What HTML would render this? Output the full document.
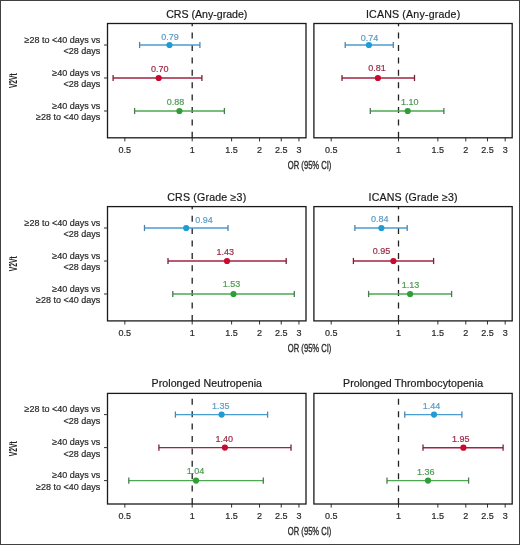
<!DOCTYPE html><html><head><meta charset="utf-8"><style>html,body{margin:0;padding:0;background:#fff;overflow:hidden}svg{display:block;will-change:transform}text{font-family:"Liberation Sans",sans-serif}</style></head><body>
<svg width="520" height="545" viewBox="0 0 520 545">
<rect x="0" y="0" width="520" height="545" fill="#fff"/>
<rect x="0.5" y="0.5" width="519" height="544" fill="none" stroke="#404040" stroke-width="1"/>
<text x="206.75" y="17.50" font-size="10.6" letter-spacing="0" text-anchor="middle" fill="#1a1a1a" stroke="#1a1a1a" stroke-width="0.2">CRS (Any-grade)</text>
<line x1="192.2" y1="137.8" x2="192.2" y2="23.5" stroke="#222" stroke-width="1.3" stroke-dasharray="6 6.4"/>
<line x1="124.85" y1="137.8" x2="124.85" y2="141.40" stroke="#333" stroke-width="1"/>
<text x="124.85" y="152.80" font-size="9" text-anchor="middle" fill="#2a2a2a" stroke="#2a2a2a" stroke-width="0.2">0.5</text>
<line x1="192.20" y1="137.8" x2="192.20" y2="141.40" stroke="#333" stroke-width="1"/>
<text x="192.20" y="152.80" font-size="9" text-anchor="middle" fill="#2a2a2a" stroke="#2a2a2a" stroke-width="0.2">1</text>
<line x1="231.60" y1="137.8" x2="231.60" y2="141.40" stroke="#333" stroke-width="1"/>
<text x="231.60" y="152.80" font-size="9" text-anchor="middle" fill="#2a2a2a" stroke="#2a2a2a" stroke-width="0.2">1.5</text>
<line x1="259.55" y1="137.8" x2="259.55" y2="141.40" stroke="#333" stroke-width="1"/>
<text x="259.55" y="152.80" font-size="9" text-anchor="middle" fill="#2a2a2a" stroke="#2a2a2a" stroke-width="0.2">2</text>
<line x1="281.24" y1="137.8" x2="281.24" y2="141.40" stroke="#333" stroke-width="1"/>
<text x="281.24" y="152.80" font-size="9" text-anchor="middle" fill="#2a2a2a" stroke="#2a2a2a" stroke-width="0.2">2.5</text>
<line x1="298.95" y1="137.8" x2="298.95" y2="141.40" stroke="#333" stroke-width="1"/>
<text x="298.95" y="152.80" font-size="9" text-anchor="middle" fill="#2a2a2a" stroke="#2a2a2a" stroke-width="0.2">3</text>
<line x1="139.6" y1="45" x2="199.9" y2="45" stroke="#4a9dd2" stroke-width="1.35"/>
<line x1="139.6" y1="41.9" x2="139.6" y2="48.1" stroke="#4f85ad" stroke-width="1.3"/>
<line x1="199.9" y1="41.9" x2="199.9" y2="48.1" stroke="#4f85ad" stroke-width="1.3"/>
<circle cx="169.5" cy="45" r="3.1" fill="#1f9bd6"/>
<text x="170.10" y="40.10" font-size="9" text-anchor="middle" fill="#5a9cc6" stroke="#5a9cc6" stroke-width="0.2">0.79</text>
<line x1="113.1" y1="78" x2="201.9" y2="78" stroke="#a02342" stroke-width="1.35"/>
<line x1="113.1" y1="74.9" x2="113.1" y2="81.1" stroke="#7a2038" stroke-width="1.3"/>
<line x1="201.9" y1="74.9" x2="201.9" y2="81.1" stroke="#7a2038" stroke-width="1.3"/>
<circle cx="158.7" cy="78" r="3.1" fill="#c80a2e"/>
<text x="159.70" y="71.80" font-size="9" text-anchor="middle" fill="#9a2a44" stroke="#9a2a44" stroke-width="0.2">0.70</text>
<line x1="134.6" y1="111" x2="224.4" y2="111" stroke="#4da852" stroke-width="1.35"/>
<line x1="134.6" y1="107.9" x2="134.6" y2="114.1" stroke="#4a7a50" stroke-width="1.3"/>
<line x1="224.4" y1="107.9" x2="224.4" y2="114.1" stroke="#4a7a50" stroke-width="1.3"/>
<circle cx="179.4" cy="111" r="3.1" fill="#2e9e36"/>
<text x="175.60" y="104.80" font-size="9" text-anchor="middle" fill="#4f9953" stroke="#4f9953" stroke-width="0.2">0.88</text>
<rect x="107.5" y="23.5" width="198.50" height="114.30" fill="none" stroke="#1a1a1a" stroke-width="1.3"/>
<line x1="104" y1="45" x2="107.5" y2="45" stroke="#333" stroke-width="1"/>
<text x="100.2" y="42.60" font-size="9" text-anchor="end" fill="#2a2a2a" stroke="#2a2a2a" stroke-width="0.2">≥28 to &lt;40 days vs</text>
<text x="100.2" y="53.90" font-size="9" text-anchor="end" fill="#2a2a2a" stroke="#2a2a2a" stroke-width="0.2">&lt;28 days</text>
<line x1="104" y1="78" x2="107.5" y2="78" stroke="#333" stroke-width="1"/>
<text x="100.2" y="75.60" font-size="9" text-anchor="end" fill="#2a2a2a" stroke="#2a2a2a" stroke-width="0.2">≥40 days vs</text>
<text x="100.2" y="86.90" font-size="9" text-anchor="end" fill="#2a2a2a" stroke="#2a2a2a" stroke-width="0.2">&lt;28 days</text>
<line x1="104" y1="111" x2="107.5" y2="111" stroke="#333" stroke-width="1"/>
<text x="100.2" y="108.60" font-size="9" text-anchor="end" fill="#2a2a2a" stroke="#2a2a2a" stroke-width="0.2">≥40 days vs</text>
<text x="100.2" y="119.90" font-size="9" text-anchor="end" fill="#2a2a2a" stroke="#2a2a2a" stroke-width="0.2">≥28 to &lt;40 days</text>
<text transform="translate(16.9 80.65) rotate(-90) scale(0.67 1)" x="0" y="0" font-size="10" font-weight="bold" text-anchor="middle" fill="#222">V2Vt</text>
<text x="413.15" y="17.50" font-size="10.6" letter-spacing="0.19" text-anchor="middle" fill="#1a1a1a" stroke="#1a1a1a" stroke-width="0.2">ICANS (Any-grade)</text>
<line x1="398.5" y1="137.8" x2="398.5" y2="23.5" stroke="#222" stroke-width="1.3" stroke-dasharray="6 6.4"/>
<line x1="331.20" y1="137.8" x2="331.20" y2="141.40" stroke="#333" stroke-width="1"/>
<text x="331.20" y="152.80" font-size="9" text-anchor="middle" fill="#2a2a2a" stroke="#2a2a2a" stroke-width="0.2">0.5</text>
<line x1="398.50" y1="137.8" x2="398.50" y2="141.40" stroke="#333" stroke-width="1"/>
<text x="398.50" y="152.80" font-size="9" text-anchor="middle" fill="#2a2a2a" stroke="#2a2a2a" stroke-width="0.2">1</text>
<line x1="437.87" y1="137.8" x2="437.87" y2="141.40" stroke="#333" stroke-width="1"/>
<text x="437.87" y="152.80" font-size="9" text-anchor="middle" fill="#2a2a2a" stroke="#2a2a2a" stroke-width="0.2">1.5</text>
<line x1="465.80" y1="137.8" x2="465.80" y2="141.40" stroke="#333" stroke-width="1"/>
<text x="465.80" y="152.80" font-size="9" text-anchor="middle" fill="#2a2a2a" stroke="#2a2a2a" stroke-width="0.2">2</text>
<line x1="487.47" y1="137.8" x2="487.47" y2="141.40" stroke="#333" stroke-width="1"/>
<text x="487.47" y="152.80" font-size="9" text-anchor="middle" fill="#2a2a2a" stroke="#2a2a2a" stroke-width="0.2">2.5</text>
<line x1="505.18" y1="137.8" x2="505.18" y2="141.40" stroke="#333" stroke-width="1"/>
<text x="505.18" y="152.80" font-size="9" text-anchor="middle" fill="#2a2a2a" stroke="#2a2a2a" stroke-width="0.2">3</text>
<line x1="345.2" y1="45" x2="393.3" y2="45" stroke="#4a9dd2" stroke-width="1.35"/>
<line x1="345.2" y1="41.9" x2="345.2" y2="48.1" stroke="#4f85ad" stroke-width="1.3"/>
<line x1="393.3" y1="41.9" x2="393.3" y2="48.1" stroke="#4f85ad" stroke-width="1.3"/>
<circle cx="368.9" cy="45" r="3.1" fill="#1f9bd6"/>
<text x="369.40" y="40.50" font-size="9" text-anchor="middle" fill="#5a9cc6" stroke="#5a9cc6" stroke-width="0.2">0.74</text>
<line x1="342.0" y1="78" x2="414.5" y2="78" stroke="#a02342" stroke-width="1.35"/>
<line x1="342.0" y1="74.9" x2="342.0" y2="81.1" stroke="#7a2038" stroke-width="1.3"/>
<line x1="414.5" y1="74.9" x2="414.5" y2="81.1" stroke="#7a2038" stroke-width="1.3"/>
<circle cx="377.9" cy="78" r="3.1" fill="#c80a2e"/>
<text x="376.90" y="71.40" font-size="9" text-anchor="middle" fill="#9a2a44" stroke="#9a2a44" stroke-width="0.2">0.81</text>
<line x1="370.3" y1="111" x2="443.9" y2="111" stroke="#4da852" stroke-width="1.35"/>
<line x1="370.3" y1="107.9" x2="370.3" y2="114.1" stroke="#4a7a50" stroke-width="1.3"/>
<line x1="443.9" y1="107.9" x2="443.9" y2="114.1" stroke="#4a7a50" stroke-width="1.3"/>
<circle cx="407.7" cy="111" r="3.1" fill="#2e9e36"/>
<text x="409.75" y="105.00" font-size="9" text-anchor="middle" fill="#4f9953" stroke="#4f9953" stroke-width="0.2">1.10</text>
<rect x="313.9" y="23.5" width="198.30" height="114.30" fill="none" stroke="#1a1a1a" stroke-width="1.3"/>
<text transform="translate(309.6 168.60) scale(0.717 1)" x="0" y="0" font-size="10.6" font-weight="normal" stroke="#2a2a2a" stroke-width="0.35" text-anchor="middle" fill="#2a2a2a">OR (95% CI)</text>
<text x="206.84" y="200.60" font-size="10.6" letter-spacing="0.19" text-anchor="middle" fill="#1a1a1a" stroke="#1a1a1a" stroke-width="0.2">CRS (Grade ≥3)</text>
<line x1="192.2" y1="320.9" x2="192.2" y2="206.6" stroke="#222" stroke-width="1.3" stroke-dasharray="6 6.4"/>
<line x1="124.85" y1="320.9" x2="124.85" y2="324.50" stroke="#333" stroke-width="1"/>
<text x="124.85" y="335.90" font-size="9" text-anchor="middle" fill="#2a2a2a" stroke="#2a2a2a" stroke-width="0.2">0.5</text>
<line x1="192.20" y1="320.9" x2="192.20" y2="324.50" stroke="#333" stroke-width="1"/>
<text x="192.20" y="335.90" font-size="9" text-anchor="middle" fill="#2a2a2a" stroke="#2a2a2a" stroke-width="0.2">1</text>
<line x1="231.60" y1="320.9" x2="231.60" y2="324.50" stroke="#333" stroke-width="1"/>
<text x="231.60" y="335.90" font-size="9" text-anchor="middle" fill="#2a2a2a" stroke="#2a2a2a" stroke-width="0.2">1.5</text>
<line x1="259.55" y1="320.9" x2="259.55" y2="324.50" stroke="#333" stroke-width="1"/>
<text x="259.55" y="335.90" font-size="9" text-anchor="middle" fill="#2a2a2a" stroke="#2a2a2a" stroke-width="0.2">2</text>
<line x1="281.24" y1="320.9" x2="281.24" y2="324.50" stroke="#333" stroke-width="1"/>
<text x="281.24" y="335.90" font-size="9" text-anchor="middle" fill="#2a2a2a" stroke="#2a2a2a" stroke-width="0.2">2.5</text>
<line x1="298.95" y1="320.9" x2="298.95" y2="324.50" stroke="#333" stroke-width="1"/>
<text x="298.95" y="335.90" font-size="9" text-anchor="middle" fill="#2a2a2a" stroke="#2a2a2a" stroke-width="0.2">3</text>
<line x1="144.5" y1="228" x2="228.0" y2="228" stroke="#4a9dd2" stroke-width="1.35"/>
<line x1="144.5" y1="224.9" x2="144.5" y2="231.1" stroke="#4f85ad" stroke-width="1.3"/>
<line x1="228.0" y1="224.9" x2="228.0" y2="231.1" stroke="#4f85ad" stroke-width="1.3"/>
<circle cx="186.2" cy="228" r="3.1" fill="#1f9bd6"/>
<text x="204.10" y="223.20" font-size="9" text-anchor="middle" fill="#5a9cc6" stroke="#5a9cc6" stroke-width="0.2">0.94</text>
<line x1="168.0" y1="261" x2="286.2" y2="261" stroke="#a02342" stroke-width="1.35"/>
<line x1="168.0" y1="257.9" x2="168.0" y2="264.1" stroke="#7a2038" stroke-width="1.3"/>
<line x1="286.2" y1="257.9" x2="286.2" y2="264.1" stroke="#7a2038" stroke-width="1.3"/>
<circle cx="227.0" cy="261" r="3.1" fill="#c80a2e"/>
<text x="225.35" y="255.00" font-size="9" text-anchor="middle" fill="#9a2a44" stroke="#9a2a44" stroke-width="0.2">1.43</text>
<line x1="172.8" y1="294" x2="294.3" y2="294" stroke="#4da852" stroke-width="1.35"/>
<line x1="172.8" y1="290.9" x2="172.8" y2="297.1" stroke="#4a7a50" stroke-width="1.3"/>
<line x1="294.3" y1="290.9" x2="294.3" y2="297.1" stroke="#4a7a50" stroke-width="1.3"/>
<circle cx="233.5" cy="294" r="3.1" fill="#2e9e36"/>
<text x="231.55" y="287.40" font-size="9" text-anchor="middle" fill="#4f9953" stroke="#4f9953" stroke-width="0.2">1.53</text>
<rect x="107.5" y="206.6" width="198.50" height="114.30" fill="none" stroke="#1a1a1a" stroke-width="1.3"/>
<line x1="104" y1="228" x2="107.5" y2="228" stroke="#333" stroke-width="1"/>
<text x="100.2" y="225.60" font-size="9" text-anchor="end" fill="#2a2a2a" stroke="#2a2a2a" stroke-width="0.2">≥28 to &lt;40 days vs</text>
<text x="100.2" y="236.90" font-size="9" text-anchor="end" fill="#2a2a2a" stroke="#2a2a2a" stroke-width="0.2">&lt;28 days</text>
<line x1="104" y1="261" x2="107.5" y2="261" stroke="#333" stroke-width="1"/>
<text x="100.2" y="258.60" font-size="9" text-anchor="end" fill="#2a2a2a" stroke="#2a2a2a" stroke-width="0.2">≥40 days vs</text>
<text x="100.2" y="269.90" font-size="9" text-anchor="end" fill="#2a2a2a" stroke="#2a2a2a" stroke-width="0.2">&lt;28 days</text>
<line x1="104" y1="294" x2="107.5" y2="294" stroke="#333" stroke-width="1"/>
<text x="100.2" y="291.60" font-size="9" text-anchor="end" fill="#2a2a2a" stroke="#2a2a2a" stroke-width="0.2">≥40 days vs</text>
<text x="100.2" y="302.90" font-size="9" text-anchor="end" fill="#2a2a2a" stroke="#2a2a2a" stroke-width="0.2">≥28 to &lt;40 days</text>
<text transform="translate(16.9 263.75) rotate(-90) scale(0.67 1)" x="0" y="0" font-size="10" font-weight="bold" text-anchor="middle" fill="#222">V2Vt</text>
<text x="413.13" y="200.60" font-size="10.6" letter-spacing="0.16" text-anchor="middle" fill="#1a1a1a" stroke="#1a1a1a" stroke-width="0.2">ICANS (Grade ≥3)</text>
<line x1="398.5" y1="320.9" x2="398.5" y2="206.6" stroke="#222" stroke-width="1.3" stroke-dasharray="6 6.4"/>
<line x1="331.20" y1="320.9" x2="331.20" y2="324.50" stroke="#333" stroke-width="1"/>
<text x="331.20" y="335.90" font-size="9" text-anchor="middle" fill="#2a2a2a" stroke="#2a2a2a" stroke-width="0.2">0.5</text>
<line x1="398.50" y1="320.9" x2="398.50" y2="324.50" stroke="#333" stroke-width="1"/>
<text x="398.50" y="335.90" font-size="9" text-anchor="middle" fill="#2a2a2a" stroke="#2a2a2a" stroke-width="0.2">1</text>
<line x1="437.87" y1="320.9" x2="437.87" y2="324.50" stroke="#333" stroke-width="1"/>
<text x="437.87" y="335.90" font-size="9" text-anchor="middle" fill="#2a2a2a" stroke="#2a2a2a" stroke-width="0.2">1.5</text>
<line x1="465.80" y1="320.9" x2="465.80" y2="324.50" stroke="#333" stroke-width="1"/>
<text x="465.80" y="335.90" font-size="9" text-anchor="middle" fill="#2a2a2a" stroke="#2a2a2a" stroke-width="0.2">2</text>
<line x1="487.47" y1="320.9" x2="487.47" y2="324.50" stroke="#333" stroke-width="1"/>
<text x="487.47" y="335.90" font-size="9" text-anchor="middle" fill="#2a2a2a" stroke="#2a2a2a" stroke-width="0.2">2.5</text>
<line x1="505.18" y1="320.9" x2="505.18" y2="324.50" stroke="#333" stroke-width="1"/>
<text x="505.18" y="335.90" font-size="9" text-anchor="middle" fill="#2a2a2a" stroke="#2a2a2a" stroke-width="0.2">3</text>
<line x1="354.9" y1="228" x2="407.2" y2="228" stroke="#4a9dd2" stroke-width="1.35"/>
<line x1="354.9" y1="224.9" x2="354.9" y2="231.1" stroke="#4f85ad" stroke-width="1.3"/>
<line x1="407.2" y1="224.9" x2="407.2" y2="231.1" stroke="#4f85ad" stroke-width="1.3"/>
<circle cx="381.4" cy="228" r="3.1" fill="#1f9bd6"/>
<text x="379.70" y="221.60" font-size="9" text-anchor="middle" fill="#5a9cc6" stroke="#5a9cc6" stroke-width="0.2">0.84</text>
<line x1="353.4" y1="261" x2="433.6" y2="261" stroke="#a02342" stroke-width="1.35"/>
<line x1="353.4" y1="257.9" x2="353.4" y2="264.1" stroke="#7a2038" stroke-width="1.3"/>
<line x1="433.6" y1="257.9" x2="433.6" y2="264.1" stroke="#7a2038" stroke-width="1.3"/>
<circle cx="393.4" cy="261" r="3.1" fill="#c80a2e"/>
<text x="381.50" y="254.00" font-size="9" text-anchor="middle" fill="#9a2a44" stroke="#9a2a44" stroke-width="0.2">0.95</text>
<line x1="368.6" y1="294" x2="451.6" y2="294" stroke="#4da852" stroke-width="1.35"/>
<line x1="368.6" y1="290.9" x2="368.6" y2="297.1" stroke="#4a7a50" stroke-width="1.3"/>
<line x1="451.6" y1="290.9" x2="451.6" y2="297.1" stroke="#4a7a50" stroke-width="1.3"/>
<circle cx="410.1" cy="294" r="3.1" fill="#2e9e36"/>
<text x="410.55" y="287.50" font-size="9" text-anchor="middle" fill="#4f9953" stroke="#4f9953" stroke-width="0.2">1.13</text>
<rect x="313.9" y="206.6" width="198.30" height="114.30" fill="none" stroke="#1a1a1a" stroke-width="1.3"/>
<text transform="translate(309.6 351.70) scale(0.717 1)" x="0" y="0" font-size="10.6" font-weight="normal" stroke="#2a2a2a" stroke-width="0.35" text-anchor="middle" fill="#2a2a2a">OR (95% CI)</text>
<text x="206.79" y="387.40" font-size="10.6" letter-spacing="0.075" text-anchor="middle" fill="#1a1a1a" stroke="#1a1a1a" stroke-width="0.2">Prolonged Neutropenia</text>
<line x1="192.2" y1="504.0" x2="192.2" y2="393.4" stroke="#222" stroke-width="1.3" stroke-dasharray="6 6.4"/>
<line x1="124.85" y1="504.0" x2="124.85" y2="507.60" stroke="#333" stroke-width="1"/>
<text x="124.85" y="519.00" font-size="9" text-anchor="middle" fill="#2a2a2a" stroke="#2a2a2a" stroke-width="0.2">0.5</text>
<line x1="192.20" y1="504.0" x2="192.20" y2="507.60" stroke="#333" stroke-width="1"/>
<text x="192.20" y="519.00" font-size="9" text-anchor="middle" fill="#2a2a2a" stroke="#2a2a2a" stroke-width="0.2">1</text>
<line x1="231.60" y1="504.0" x2="231.60" y2="507.60" stroke="#333" stroke-width="1"/>
<text x="231.60" y="519.00" font-size="9" text-anchor="middle" fill="#2a2a2a" stroke="#2a2a2a" stroke-width="0.2">1.5</text>
<line x1="259.55" y1="504.0" x2="259.55" y2="507.60" stroke="#333" stroke-width="1"/>
<text x="259.55" y="519.00" font-size="9" text-anchor="middle" fill="#2a2a2a" stroke="#2a2a2a" stroke-width="0.2">2</text>
<line x1="281.24" y1="504.0" x2="281.24" y2="507.60" stroke="#333" stroke-width="1"/>
<text x="281.24" y="519.00" font-size="9" text-anchor="middle" fill="#2a2a2a" stroke="#2a2a2a" stroke-width="0.2">2.5</text>
<line x1="298.95" y1="504.0" x2="298.95" y2="507.60" stroke="#333" stroke-width="1"/>
<text x="298.95" y="519.00" font-size="9" text-anchor="middle" fill="#2a2a2a" stroke="#2a2a2a" stroke-width="0.2">3</text>
<line x1="175.4" y1="414.6" x2="267.6" y2="414.6" stroke="#4a9dd2" stroke-width="1.35"/>
<line x1="175.4" y1="411.5" x2="175.4" y2="417.70000000000005" stroke="#4f85ad" stroke-width="1.3"/>
<line x1="267.6" y1="411.5" x2="267.6" y2="417.70000000000005" stroke="#4f85ad" stroke-width="1.3"/>
<circle cx="221.6" cy="414.6" r="3.1" fill="#1f9bd6"/>
<text x="220.75" y="408.70" font-size="9" text-anchor="middle" fill="#5a9cc6" stroke="#5a9cc6" stroke-width="0.2">1.35</text>
<line x1="158.9" y1="447.6" x2="291.0" y2="447.6" stroke="#a02342" stroke-width="1.35"/>
<line x1="158.9" y1="444.5" x2="158.9" y2="450.70000000000005" stroke="#7a2038" stroke-width="1.3"/>
<line x1="291.0" y1="444.5" x2="291.0" y2="450.70000000000005" stroke="#7a2038" stroke-width="1.3"/>
<circle cx="224.9" cy="447.6" r="3.1" fill="#c80a2e"/>
<text x="224.35" y="441.70" font-size="9" text-anchor="middle" fill="#9a2a44" stroke="#9a2a44" stroke-width="0.2">1.40</text>
<line x1="128.8" y1="480.6" x2="263.3" y2="480.6" stroke="#4da852" stroke-width="1.35"/>
<line x1="128.8" y1="477.5" x2="128.8" y2="483.70000000000005" stroke="#4a7a50" stroke-width="1.3"/>
<line x1="263.3" y1="477.5" x2="263.3" y2="483.70000000000005" stroke="#4a7a50" stroke-width="1.3"/>
<circle cx="196.0" cy="480.6" r="3.1" fill="#2e9e36"/>
<text x="195.55" y="473.60" font-size="9" text-anchor="middle" fill="#4f9953" stroke="#4f9953" stroke-width="0.2">1.04</text>
<rect x="107.5" y="393.4" width="198.50" height="110.60" fill="none" stroke="#1a1a1a" stroke-width="1.3"/>
<line x1="104" y1="414.6" x2="107.5" y2="414.6" stroke="#333" stroke-width="1"/>
<text x="100.2" y="412.20" font-size="9" text-anchor="end" fill="#2a2a2a" stroke="#2a2a2a" stroke-width="0.2">≥28 to &lt;40 days vs</text>
<text x="100.2" y="423.50" font-size="9" text-anchor="end" fill="#2a2a2a" stroke="#2a2a2a" stroke-width="0.2">&lt;28 days</text>
<line x1="104" y1="447.6" x2="107.5" y2="447.6" stroke="#333" stroke-width="1"/>
<text x="100.2" y="445.20" font-size="9" text-anchor="end" fill="#2a2a2a" stroke="#2a2a2a" stroke-width="0.2">≥40 days vs</text>
<text x="100.2" y="456.50" font-size="9" text-anchor="end" fill="#2a2a2a" stroke="#2a2a2a" stroke-width="0.2">&lt;28 days</text>
<line x1="104" y1="480.6" x2="107.5" y2="480.6" stroke="#333" stroke-width="1"/>
<text x="100.2" y="478.20" font-size="9" text-anchor="end" fill="#2a2a2a" stroke="#2a2a2a" stroke-width="0.2">≥40 days vs</text>
<text x="100.2" y="489.50" font-size="9" text-anchor="end" fill="#2a2a2a" stroke="#2a2a2a" stroke-width="0.2">≥28 to &lt;40 days</text>
<text transform="translate(16.9 448.70) rotate(-90) scale(0.67 1)" x="0" y="0" font-size="10" font-weight="bold" text-anchor="middle" fill="#222">V2Vt</text>
<text x="413.07" y="387.40" font-size="10.6" letter-spacing="0.05" text-anchor="middle" fill="#1a1a1a" stroke="#1a1a1a" stroke-width="0.2">Prolonged Thrombocytopenia</text>
<line x1="398.5" y1="504.0" x2="398.5" y2="393.4" stroke="#222" stroke-width="1.3" stroke-dasharray="6 6.4"/>
<line x1="331.20" y1="504.0" x2="331.20" y2="507.60" stroke="#333" stroke-width="1"/>
<text x="331.20" y="519.00" font-size="9" text-anchor="middle" fill="#2a2a2a" stroke="#2a2a2a" stroke-width="0.2">0.5</text>
<line x1="398.50" y1="504.0" x2="398.50" y2="507.60" stroke="#333" stroke-width="1"/>
<text x="398.50" y="519.00" font-size="9" text-anchor="middle" fill="#2a2a2a" stroke="#2a2a2a" stroke-width="0.2">1</text>
<line x1="437.87" y1="504.0" x2="437.87" y2="507.60" stroke="#333" stroke-width="1"/>
<text x="437.87" y="519.00" font-size="9" text-anchor="middle" fill="#2a2a2a" stroke="#2a2a2a" stroke-width="0.2">1.5</text>
<line x1="465.80" y1="504.0" x2="465.80" y2="507.60" stroke="#333" stroke-width="1"/>
<text x="465.80" y="519.00" font-size="9" text-anchor="middle" fill="#2a2a2a" stroke="#2a2a2a" stroke-width="0.2">2</text>
<line x1="487.47" y1="504.0" x2="487.47" y2="507.60" stroke="#333" stroke-width="1"/>
<text x="487.47" y="519.00" font-size="9" text-anchor="middle" fill="#2a2a2a" stroke="#2a2a2a" stroke-width="0.2">2.5</text>
<line x1="505.18" y1="504.0" x2="505.18" y2="507.60" stroke="#333" stroke-width="1"/>
<text x="505.18" y="519.00" font-size="9" text-anchor="middle" fill="#2a2a2a" stroke="#2a2a2a" stroke-width="0.2">3</text>
<line x1="404.75" y1="414.6" x2="461.9" y2="414.6" stroke="#4a9dd2" stroke-width="1.35"/>
<line x1="404.75" y1="411.5" x2="404.75" y2="417.70000000000005" stroke="#4f85ad" stroke-width="1.3"/>
<line x1="461.9" y1="411.5" x2="461.9" y2="417.70000000000005" stroke="#4f85ad" stroke-width="1.3"/>
<circle cx="434.0" cy="414.6" r="3.1" fill="#1f9bd6"/>
<text x="431.55" y="409.00" font-size="9" text-anchor="middle" fill="#5a9cc6" stroke="#5a9cc6" stroke-width="0.2">1.44</text>
<line x1="423.0" y1="447.7" x2="503.1" y2="447.7" stroke="#a02342" stroke-width="1.35"/>
<line x1="423.0" y1="444.59999999999997" x2="423.0" y2="450.8" stroke="#7a2038" stroke-width="1.3"/>
<line x1="503.1" y1="444.59999999999997" x2="503.1" y2="450.8" stroke="#7a2038" stroke-width="1.3"/>
<circle cx="463.4" cy="447.7" r="3.1" fill="#c80a2e"/>
<text x="460.75" y="441.70" font-size="9" text-anchor="middle" fill="#9a2a44" stroke="#9a2a44" stroke-width="0.2">1.95</text>
<line x1="387.0" y1="480.6" x2="468.6" y2="480.6" stroke="#4da852" stroke-width="1.35"/>
<line x1="387.0" y1="477.5" x2="387.0" y2="483.70000000000005" stroke="#4a7a50" stroke-width="1.3"/>
<line x1="468.6" y1="477.5" x2="468.6" y2="483.70000000000005" stroke="#4a7a50" stroke-width="1.3"/>
<circle cx="428.0" cy="480.6" r="3.1" fill="#2e9e36"/>
<text x="425.75" y="474.50" font-size="9" text-anchor="middle" fill="#4f9953" stroke="#4f9953" stroke-width="0.2">1.36</text>
<rect x="313.9" y="393.4" width="198.30" height="110.60" fill="none" stroke="#1a1a1a" stroke-width="1.3"/>
<text transform="translate(309.6 534.80) scale(0.717 1)" x="0" y="0" font-size="10.6" font-weight="normal" stroke="#2a2a2a" stroke-width="0.35" text-anchor="middle" fill="#2a2a2a">OR (95% CI)</text>
</svg></body></html>
